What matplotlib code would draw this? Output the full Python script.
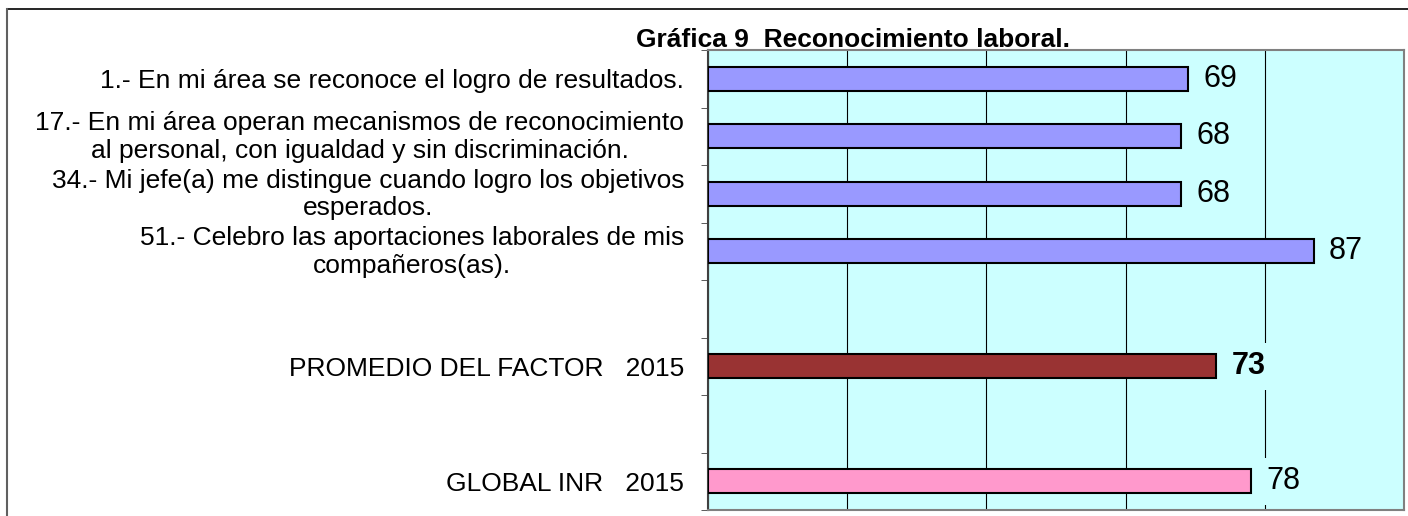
import matplotlib.pyplot as plt
import matplotlib.transforms as mtransforms
import numpy as np
from matplotlib.lines import Line2D

plt.rcParams['font.family'] = ['Liberation Sans', 'DejaVu Sans']

# data
categorias = [
    '1.- En mi área se reconoce el logro de resultados.',
    '17.- En mi área operan mecanismos de reconocimiento\nal personal, con igualdad y sin discriminación.',
    '34.- Mi jefe(a) me distingue cuando logro los objetivos\nesperados.',
    '51.- Celebro las aportaciones laborales de mis\ncompañeros(as).',
    '',
    'PROMEDIO DEL FACTOR   2015',
    '',
    'GLOBAL INR   2015',
]
valores = [69, 68, 68, 87, None, 73, None, 78]
colores = ['#9999FF', '#9999FF', '#9999FF', '#9999FF', None, '#993333', None, '#FF99CC']
negrita = [False, False, False, False, False, True, False, False]

fig = plt.figure(figsize=(14.08, 5.16), dpi=100)
ax = fig.add_axes([0.5028, 0.0116, 0.4944, 0.8915])
ax.set_facecolor('#CCFFFF')

pos = np.arange(len(categorias))
for i, v in enumerate(valores):
    if v is None:
        continue
    ax.barh(pos[i], v, height=0.41, color=colores[i], edgecolor='black', linewidth=1.5, zorder=3)
    ax.annotate(str(v), (v, pos[i]), xytext=(11, 0), textcoords='offset points',
                va='center', ha='left', fontsize=22,
                fontweight='bold' if negrita[i] else 'normal',
                bbox=dict(facecolor='#CCFFFF', edgecolor='none', pad=6), zorder=4)

ax.set_xlim(0, 100)
ax.set_ylim(len(categorias) - 0.5, -0.5)
ax.set_xticks([0, 20, 40, 60, 80, 100])
ax.xaxis.grid(True, color='black', linewidth=0.8)
ax.set_axisbelow(True)
ax.tick_params(axis='x', length=0, labelbottom=False)

ax.set_yticks(pos)
ax.set_yticklabels(categorias, fontsize=19)
ax.set_yticks(np.arange(-0.5, len(categorias), 1), minor=True)
ax.tick_params(axis='y', which='major', length=0, pad=17)
ax.tick_params(axis='y', which='minor', length=5, color='#404040')
subir = mtransforms.ScaledTranslation(0, 2.5 / 72, fig.dpi_scale_trans)
for lbl in ax.get_yticklabels():
    lbl.set_multialignment('center')
    lbl.set_linespacing(1.18)
    if '\n' in lbl.get_text():
        lbl.set_transform(lbl.get_transform() + subir)

for s in ax.spines.values():
    s.set_color('#808080')
    s.set_linewidth(1.5)
ax.spines['left'].set_color('#404040')

fig.text(0.452, 0.909, 'Gráfica 9  Reconocimiento laboral.', fontsize=19,
         fontweight='bold', ha='left', va='baseline')

# marco del grafico
fig.add_artist(Line2D([0.005, 1.0], [0.9816, 0.9816], color='black', linewidth=1.2))
fig.add_artist(Line2D([0.005, 0.005], [0.0, 0.9816], color='#606060', linewidth=1.5))

fig.savefig('out.png', dpi=100)
